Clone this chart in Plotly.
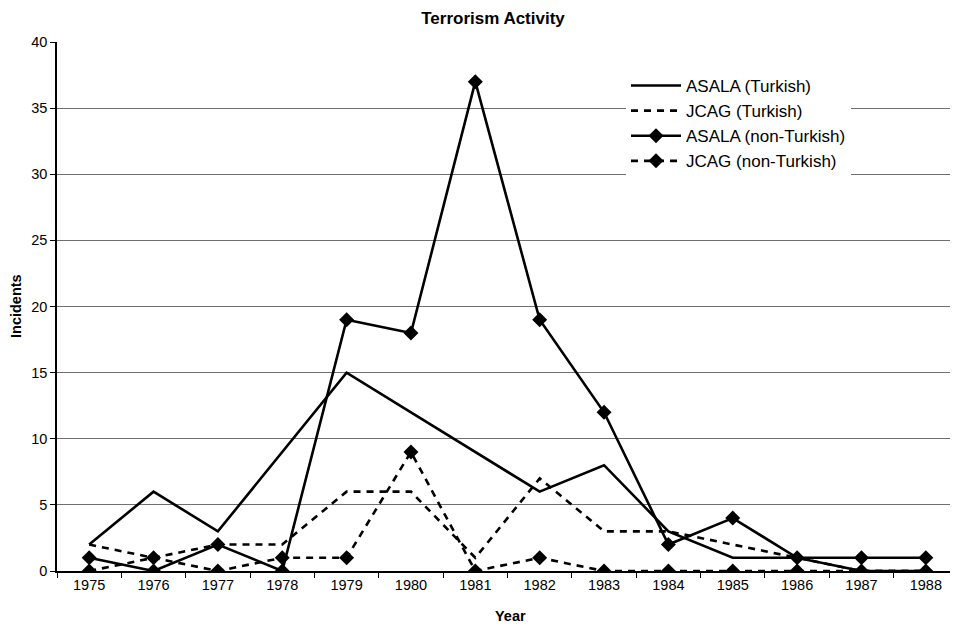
import plotly.graph_objects as go

years = ["1975", "1976", "1977", "1978", "1979", "1980", "1981",
         "1982", "1983", "1984", "1985", "1986", "1987", "1988"]
asala_turkish = [2, 6, 3, 9, 15, 12, 9, 6, 8, 3, 1, 1, 0, 0]
jcag_turkish = [2, 1, 2, 2, 6, 6, 1, 7, 3, 3, 2, 1, 0, 0]
asala_non_turkish = [1, 0, 2, 0, 19, 18, 37, 19, 12, 2, 4, 1, 1, 1]
jcag_non_turkish = [0, 1, 0, 1, 1, 9, 0, 1, 0, 0, 0, 0, 0, 0]

FONT = "Liberation Sans, Arial, sans-serif"
DASH = "7px,6px"

# page body has an 8px margin; figure is sized/offset to compensate
W, H = 950, 618
L, T, B = 49, 34, 55
PW, PH = W - L, H - T - B  # 901 x 529

fig = go.Figure()
fig.add_trace(go.Scatter(x=years, y=asala_turkish, name="ASALA (Turkish)", mode="lines",
                         line=dict(color="black", width=2.6)))
fig.add_trace(go.Scatter(x=years, y=jcag_turkish, name="JCAG (Turkish)", mode="lines",
                         line=dict(color="black", width=2.6, dash=DASH)))
fig.add_trace(go.Scatter(x=years, y=asala_non_turkish, name="ASALA (non-Turkish)", mode="lines+markers",
                         line=dict(color="black", width=2.6),
                         marker=dict(symbol="diamond", size=11.5, color="black")))
fig.add_trace(go.Scatter(x=years, y=jcag_non_turkish, name="JCAG (non-Turkish)", mode="lines+markers",
                         line=dict(color="black", width=2.6, dash=DASH),
                         marker=dict(symbol="diamond", size=11.5, color="black")))

fig.update_layout(
    width=W, height=H,
    margin=dict(l=L, r=0, t=T, b=B, pad=0, autoexpand=False),
    paper_bgcolor="white", plot_bgcolor="white",
    font=dict(family=FONT, color="black", size=14.5),
    title=dict(text="<b>Terrorism Activity</b>", x=(493 - 8) / W, xanchor="center",
               y=1 - (18 - 8) / H, yanchor="middle", font=dict(size=17)),
    showlegend=True,
    legend=dict(x=(626 - 57) / PW, y=(571 - 68) / PH, xanchor="left", yanchor="top",
                bgcolor="white", font=dict(size=17), borderwidth=0, itemwidth=50),
    xaxis=dict(type="category", range=[-0.5, 13.5], showgrid=False, showline=True,
               linecolor="black", linewidth=1.5, ticks="outside", ticklen=5, tickcolor="black",
               tickson="boundaries", tickfont=dict(size=14.5), automargin=False),
    yaxis=dict(range=[0, 40], dtick=5, showgrid=True, gridcolor="#707070", gridwidth=1.2,
               showline=True, linecolor="black", linewidth=1.5, ticks="outside", ticklen=5,
               tickcolor="black", zeroline=False, tickfont=dict(size=14.5), automargin=False),
    annotations=[
        dict(text="<b>Year</b>", xref="paper", yref="paper", x=(510 - 57) / PW,
             y=-(616 - 571) / PH, xanchor="center", yanchor="middle", showarrow=False,
             font=dict(size=14.5)),
        dict(text="<b>Incidents</b>", xref="paper", yref="paper", x=-(57 - 16) / PW,
             y=(571 - 306) / PH, xanchor="center", yanchor="middle", showarrow=False,
             textangle=-90, font=dict(size=14.5)),
    ],
)

fig.write_html("out.html")
